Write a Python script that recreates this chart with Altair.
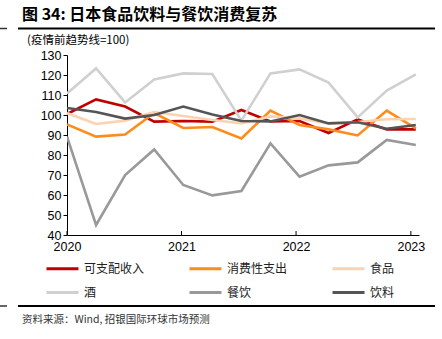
import altair as alt
import pandas as pd

series = ["可支配收入", "消费性支出", "食品", "酒", "餐饮", "饮料"]
colors = ["#C00000", "#FF8C1A", "#FBD3B0", "#D0D0D0", "#999999", "#555555"]
quarters = list(range(13))
income = [100.5, 107.8, 104.2, 96.7, 97.0, 96.7, 102.5, 96.8, 97.0, 91.0, 97.8, 92.8, 92.8]
spending = [95.3, 89.2, 90.2, 101.0, 93.5, 94.0, 88.3, 102.2, 95.0, 92.8, 89.8, 102.2, 93.3]
food = [101.0, 95.5, 97.2, 101.5, 99.5, 97.5, 95.8, 99.3, 98.3, 95.8, 96.5, 97.9, 98.0]
alcohol = [110.8, 123.3, 106.3, 117.8, 120.8, 120.5, 97.2, 120.8, 122.8, 116.2, 98.8, 112.2, 120.3]
dining = [89.2, 45.0, 70.0, 82.8, 65.0, 59.8, 62.0, 85.8, 69.2, 74.8, 76.3, 87.5, 85.0]
beverage = [103.5, 101.5, 98.2, 100.0, 104.2, 100.2, 97.0, 96.8, 100.0, 95.8, 96.4, 93.1, 95.0]
tick_pos = [0, 3.94, 7.88, 11.83]
tick_labels = ["2020", "2021", "2022", "2023"]
y_ticks = [40, 50, 60, 70, 80, 90, 100, 110, 120, 130]

title_text = "图 34: 日本食品饮料与餐饮消费复苏"
unit_text = "(疫情前趋势线=100)"
source_text = "资料来源：Wind, 招银国际环球市场预测"

values = [income, spending, food, alcohol, dining, beverage]
rows = []
for name, vals in zip(series, values):
    for q, v in zip(quarters, vals):
        rows.append({"q": q, "v": v, "s": name})
df = pd.DataFrame(rows)
ticks_df = pd.DataFrame({"p": tick_pos})
one = pd.DataFrame({"a": [0]})

label_expr = " : ".join(
    f"abs(datum.value - {p}) < 0.01 ? '{l}'" for p, l in zip(tick_pos, tick_labels)
) + " : ''"

FONT = "Liberation Sans"
CJK = "Noto Sans CJK SC"

x_scale = alt.Scale(domain=[0, 12.11], nice=False, zero=False)
y_scale = alt.Scale(domain=[40, 130], nice=False, zero=False)
x_axis = alt.Axis(values=tick_pos, labelExpr=label_expr, ticks=False,
                  grid=False, title=None, labelFont=FONT, labelFontSize=12.5,
                  labelColor="black", domainColor="black", labelPadding=5,
                  labelFlush=False, labelOverlap=False)
y_axis = alt.Axis(values=y_ticks, grid=False, title=None,
                  labelFont=FONT, labelFontSize=12.5, labelColor="black",
                  domainColor="black", tickColor="black", tickSize=4,
                  labelPadding=2, labelOverlap=False, labelFlush=False)

lines = alt.Chart(df).mark_line(strokeWidth=2.6, clip=True).encode(
    x=alt.X("q:Q", scale=x_scale, axis=x_axis),
    y=alt.Y("v:Q", scale=y_scale, axis=y_axis),
    color=alt.Color("s:N", scale=alt.Scale(domain=series, range=colors),
                    sort=series,
                    legend=alt.Legend(title=None, orient="none", legendX=-22, legendY=196,
                                      direction="horizontal",
                                      columns=3, symbolType="stroke", symbolSize=1024,
                                      symbolStrokeWidth=3, labelFont=CJK, labelFontSize=12,
                                      labelColor="#222", labelOffset=4, columnPadding=38,
                                      rowPadding=0)),
    detail="s:N",
)

xticks = alt.Chart(ticks_df).mark_rule(color="black", strokeWidth=1).encode(
    x=alt.X("p:Q", scale=x_scale, axis=x_axis),
    y=alt.YDatum(40, scale=y_scale, axis=y_axis),
    y2=alt.datum(42),
)

def hrule(x1, x2, y, w=2, color="black"):
    return alt.Chart(one).mark_rule(color=color, strokeWidth=w).encode(
        x=alt.value(x1), x2=alt.value(x2), y=alt.value(y))

def text(t, x, y, size, weight="normal", font=CJK, color="black"):
    return alt.Chart(one).mark_text(text=t, align="left", baseline="middle",
                                    fontSize=size, fontWeight=weight, font=font,
                                    color=color).encode(x=alt.value(x), y=alt.value(y))

OX, OY = 67, 55
layers = [
    lines, xticks,
    hrule(18 - OX, 435 - OX, 28.5 - OY),
    hrule(0 - OX, 7 - OX, 28.5 - OY, 1.5, "#333"),
    hrule(18 - OX, 435 - OX, 306 - OY),
    hrule(0 - OX, 7 - OX, 306 - OY, 1.5, "#333"),
    text(title_text, 22 - OX, 15 - OY, 16, "bold"),
    text(unit_text, 27 - OX, 41 - OY, 11.5),
    text(source_text, 22 - OX, 320 - OY, 10.5, color="#333"),
]

chart = alt.layer(*layers).properties(
    width=352, height=180,
    autosize=alt.AutoSizeParams(type="none"),
    padding={"left": OX, "top": OY, "right": 442 - OX - 352, "bottom": 339 - OY - 180},
    background="white",
).configure_view(stroke=None)

chart.save("out.html", embed_options={"renderer": "svg", "actions": False})
